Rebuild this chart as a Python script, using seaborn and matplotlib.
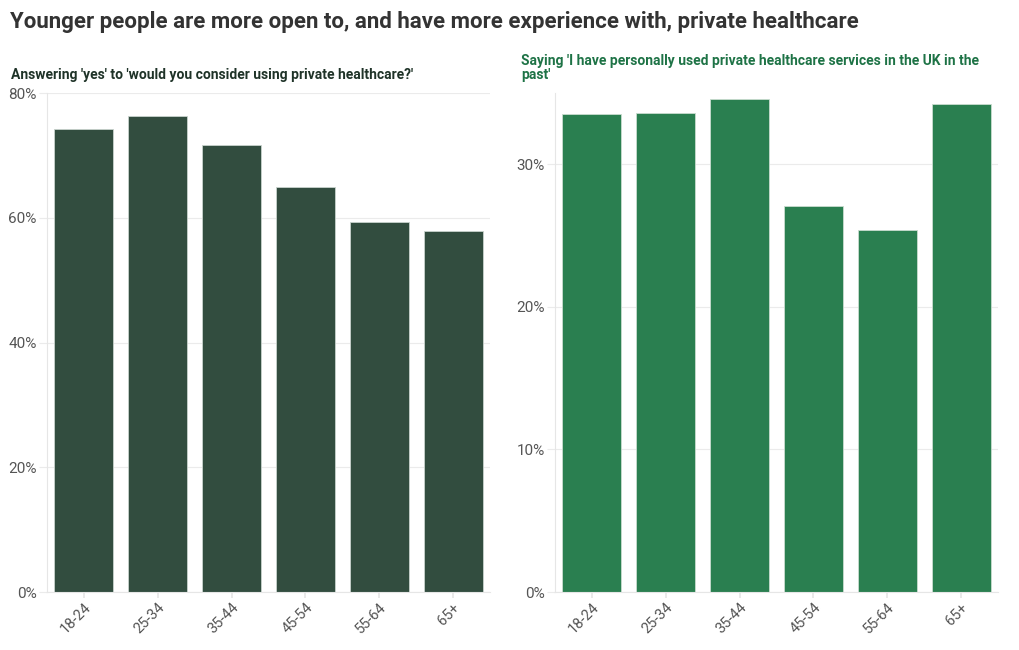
import matplotlib
matplotlib.use("Agg")
import matplotlib.pyplot as plt
import seaborn as sns
import pandas as pd
from matplotlib.ticker import FuncFormatter

age_groups = ["18-24", "25-34", "35-44", "45-54", "55-64", "65+"]
consider_private = [74.2, 76.3, 71.7, 64.9, 59.4, 57.8]
used_private = [33.5, 33.6, 34.55, 27.1, 25.4, 34.25]

title = "Younger people are more open to, and have more experience with, private healthcare"
left_sub = "Answering 'yes' to 'would you consider using private healthcare?'"
right_sub = "Saying 'I have personally used private healthcare services in the UK in the\npast'"

sns.set_theme(style="white")
plt.rcParams['font.family'] = ['Roboto', 'DejaVu Sans']

fig = plt.figure(figsize=(10.2, 6.5), dpi=100)
ax1 = fig.add_axes([0.0461, 0.0892, 0.4343, 0.7677])
ax2 = fig.add_axes([0.5441, 0.0892, 0.4343, 0.7677])

df1 = pd.DataFrame({"age": age_groups, "v": consider_private})
df2 = pd.DataFrame({"age": age_groups, "v": used_private})

sns.barplot(data=df1, x="age", y="v", ax=ax1, color="#324d3f", saturation=1,
            width=0.8, edgecolor="#c9d3cd", linewidth=0.6)
sns.barplot(data=df2, x="age", y="v", ax=ax2, color="#2a7f50", saturation=1,
            width=0.8, edgecolor="#c9dccf", linewidth=0.6)

for ax, ymax, ticks in [(ax1, 80, [0, 20, 40, 60, 80]), (ax2, 35, [0, 10, 20, 30])]:
    ax.set_xlim(-0.5, 5.5)
    ax.set_ylim(0, ymax)
    ax.set_yticks(ticks)
    ax.yaxis.set_major_formatter(FuncFormatter(lambda v, p: f"{v:.0f}%"))
    ax.set_xlabel("")
    ax.set_ylabel("")
    ax.grid(axis="y", color="#ebebeb", linewidth=0.8)
    ax.set_axisbelow(True)
    for s in ["top", "right"]:
        ax.spines[s].set_visible(False)
    for s in ["left", "bottom"]:
        ax.spines[s].set_color("#e6e6e6")
        ax.spines[s].set_linewidth(0.8)
    ax.tick_params(axis="y", labelsize=11, labelcolor="#555555", length=5.5,
                   width=0.8, color="#ebebeb", left=True, pad=2)
    ax.tick_params(axis="x", labelsize=10.5, labelcolor="#555555", length=4,
                   color="#e6e6e6", bottom=True, pad=2)
    for lab in ax.get_xticklabels():
        lab.set_rotation(45)
        lab.set_ha("right")
        lab.set_rotation_mode("anchor")

fig.text(0.0098, 0.966, title, fontsize=16, fontweight="bold", color="#333333",
         ha="left", va="center")
fig.text(0.0108, 0.885, left_sub, fontsize=10, fontweight="bold", color="#1f3328",
         ha="left", va="center")
fig.text(0.511, 0.917, right_sub, fontsize=10, fontweight="bold", color="#1e7346",
         ha="left", va="top", linespacing=1.0)

fig.savefig("out.png", dpi=100)
